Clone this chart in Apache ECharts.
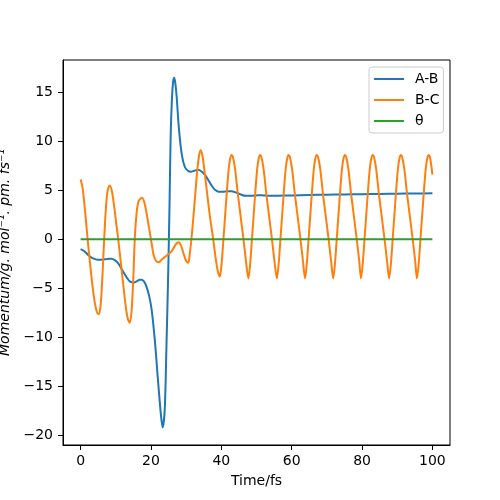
<!DOCTYPE html>
<html><head><meta charset="utf-8">
<script src="https://cdn.jsdelivr.net/npm/echarts@6/dist/echarts.min.js"></script>
<style>html,body{margin:0;padding:0;background:#fff}#c{width:500px;height:500px}</style>
</head><body><div id="c"></div>
<script>
// A-B momentum (time in fs, value)
const tAB = [0,1,2,3,3.6,5,6,6.9,8,8.8,9.8,10.7,11.6,12.6,13.4,14,15,15.4,16.2,16.8,17.3,18,18.7,19.5,20.2,21.1,22,22.8,23.3,23.9,24.4,24.9,25.3,25.6,26,26.3,26.6,26.9,27.3,27.9,28.7,29.6,30.5,31.3,32.3,33.4,34.3,35.3,36.2,37.2,38.2,39.3,40.5,41.7,42.9,44,45,46,47,48.5,50.5,52,54,56,60,65,70,75,80,85,90,95,100];
const vAB = [-1.0,-1.2,-1.55,-1.85,-1.95,-2.1,-2.08,-2.05,-2.0,-1.98,-2.15,-2.45,-3.0,-3.6,-4.05,-4.3,-4.42,-4.4,-4.25,-4.12,-4.12,-4.3,-4.8,-5.8,-7.2,-10.3,-14.4,-17.8,-19.2,-17.5,-11.0,-3.5,4.0,10.5,14.6,16.1,16.5,16.0,14.6,11.5,8.8,7.4,7.0,6.9,7.0,7.1,6.95,6.6,6.1,5.5,5.05,4.85,4.85,4.9,4.9,4.8,4.65,4.5,4.45,4.45,4.5,4.47,4.44,4.45,4.48,4.52,4.55,4.58,4.6,4.62,4.65,4.67,4.7];
// B-C momentum
const tBC = [0,0.5,1.0,1.5,2.0,2.7,3.4,4.1,4.7,5.2,5.7,6.2,6.7,7.2,7.7,8.3,8.9,9.6,10.2,10.7,11.5,12.3,13.0,13.5,14.0,14.5,15.0,15.4,15.9,16.5,17.5,18.3,19.2,20.0,20.7,21.4,22.2,23.0,24.0,25.0,25.8,26.6,27.3,27.9,28.6,29.3,30.0,30.6,31.0,31.5,32.0,32.6,33.2,33.7,34.1,34.6,35.2,35.8,36.7,37.7,38.5,39.1,
 39.6,40.1,40.6,41.1,41.6,42.1,42.5,42.9,43.3,43.9,44.7,45.5,46.3,47.0,
 47.7,48.2,48.7,49.2,49.7,50.2,50.6,51.0,51.4,52.0,52.8,53.6,54.4,55.1,
 55.8,56.3,56.8,57.3,57.8,58.3,58.7,59.1,59.5,60.1,60.9,61.7,62.5,63.2,
 63.8,64.3,64.8,65.3,65.8,66.3,66.7,67.1,67.5,68.1,68.9,69.7,70.5,71.2,
 71.8,72.3,72.8,73.3,73.8,74.3,74.7,75.1,75.5,76.1,76.9,77.7,78.5,79.2,
 79.7,80.2,80.7,81.2,81.7,82.2,82.6,83.0,83.4,84.0,84.8,85.6,86.4,87.1,
 87.7,88.2,88.7,89.2,89.7,90.2,90.6,91.0,91.4,92.0,92.8,93.6,94.4,95.1,
 95.6,96.1,96.6,97.1,97.6,98.1,98.5,98.9,99.3,100.0];
const vBC = [6.1,5.4,3.9,2.0,0,-2.5,-4.8,-6.6,-7.5,-7.65,-6.7,-3.8,0,3.2,5.0,5.5,4.9,3.2,1.4,0,-2.6,-5.2,-7.3,-8.2,-8.5,-7.3,-3.8,0,2.6,3.9,4.25,3.5,1.7,0,-1.5,-2.2,-2.35,-2.1,-1.8,-1.5,-1.25,-0.8,-0.4,-0.3,-0.7,-1.5,-2.2,-2.4,-1.6,0,2.0,4.6,7.2,8.6,9.1,8.6,7.0,5.2,2.5,0,-2.2,-3.4,
 -3.8,-2.4,0,2.5,5.0,7.2,8.2,8.6,8.4,7.2,4.6,2.3,0,-2.2,
 -4.0,-2.5,0,2.5,5.0,7.2,8.2,8.6,8.4,7.2,4.6,2.3,0,-2.2,
 -4.0,-2.5,0,2.5,5.0,7.2,8.2,8.6,8.4,7.2,4.6,2.3,0,-2.2,
 -4.0,-2.5,0,2.5,5.0,7.2,8.2,8.6,8.4,7.2,4.6,2.3,0,-2.2,
 -4.0,-2.5,0,2.5,5.0,7.2,8.2,8.6,8.4,7.2,4.6,2.3,0,-2.2,
 -4.0,-2.5,0,2.5,5.0,7.2,8.2,8.6,8.4,7.2,4.6,2.3,0,-2.2,
 -4.0,-2.5,0,2.5,5.0,7.2,8.2,8.6,8.4,7.2,4.6,2.3,0,-2.2,
 -4.0,-2.5,0,2.5,5.0,7.2,8.2,8.6,8.4,6.6];
// theta
const tTheta = [0, 100];
const vTheta = [0, 0];

const seriesNames = ['A-B', 'B-C', 'θ'];
const seriesColors = ['#1f77b4', '#ff7f0e', '#2ca02c'];
const xTicks = [0, 20, 40, 60, 80, 100];
const yTicks = [-20, -15, -10, -5, 0, 5, 10, 15];

const zip = (t, v) => t.map((x, i) => [x, v[i]]);
const fmt = v => (v < 0 ? '\u2212' + Math.abs(v) : String(v));
const FONT = 'DejaVu Sans';

const chart = echarts.init(document.getElementById('c'), null, {renderer: 'canvas'});
const mkSeries = (name, t, v, color, smooth) => ({
  name, type: 'line', data: zip(t, v), symbol: 'none', smooth: smooth,
  lineStyle: {color, width: 2}, itemStyle: {color}, animation: false
});
chart.setOption({
  animation: false,
  backgroundColor: '#fff',
  grid: {left: 63, right: 50, top: 60, bottom: 55, show: true, borderColor: '#000', borderWidth: 1,
         containLabel: false, outerBoundsMode: 'none'},
  xAxis: {
    type: 'value', min: -5, max: 105,
    name: 'Time/fs', nameLocation: 'middle', nameGap: 29,
    nameTextStyle: {fontFamily: FONT, fontSize: 14, color: '#000'},
    axisLine: {show: true, onZero: false, lineStyle: {color: '#000', width: 1}},
    axisTick: {show: true, inside: false, length: 5, customValues: xTicks, lineStyle: {color: '#000', width: 1}},
    axisLabel: {customValues: xTicks, margin: 9, fontFamily: FONT, fontSize: 14, color: '#000', formatter: fmt},
    splitLine: {show: false}
  },
  yAxis: {
    type: 'value', min: -21.0, max: 18.3,
    name: 'Momentum/g. mol⁻¹. pm. fs⁻¹', nameLocation: 'middle', nameGap: 48, nameRotate: 90,
    nameTextStyle: {fontFamily: FONT, fontSize: 14, fontStyle: 'italic', color: '#000'},
    axisLine: {show: true, onZero: false, lineStyle: {color: '#000', width: 1}},
    axisTick: {show: true, inside: false, length: 5, customValues: yTicks, lineStyle: {color: '#000', width: 1}},
    axisLabel: {customValues: yTicks, margin: 10, fontFamily: FONT, fontSize: 14, color: '#000', formatter: fmt},
    splitLine: {show: false}
  },
  legend: {
    data: seriesNames, orient: 'vertical', left: 369, top: 67,
    itemWidth: 30, itemHeight: 14, itemGap: 7, padding: [5, 4, 5, 4],
    itemStyle: {opacity: 0},
    backgroundColor: 'rgba(255,255,255,0.8)', borderColor: '#cccccc', borderWidth: 1, borderRadius: 3,
    textStyle: {fontFamily: FONT, fontSize: 14, color: '#000', padding: [0, 0, 0, 6]}
  },
  series: [
    mkSeries(seriesNames[0], tAB, vAB, seriesColors[0], 0.3),
    mkSeries(seriesNames[1], tBC, vBC, seriesColors[1], 0.3),
    mkSeries(seriesNames[2], tTheta, vTheta, seriesColors[2], false)
  ]
});
</script></body></html>
